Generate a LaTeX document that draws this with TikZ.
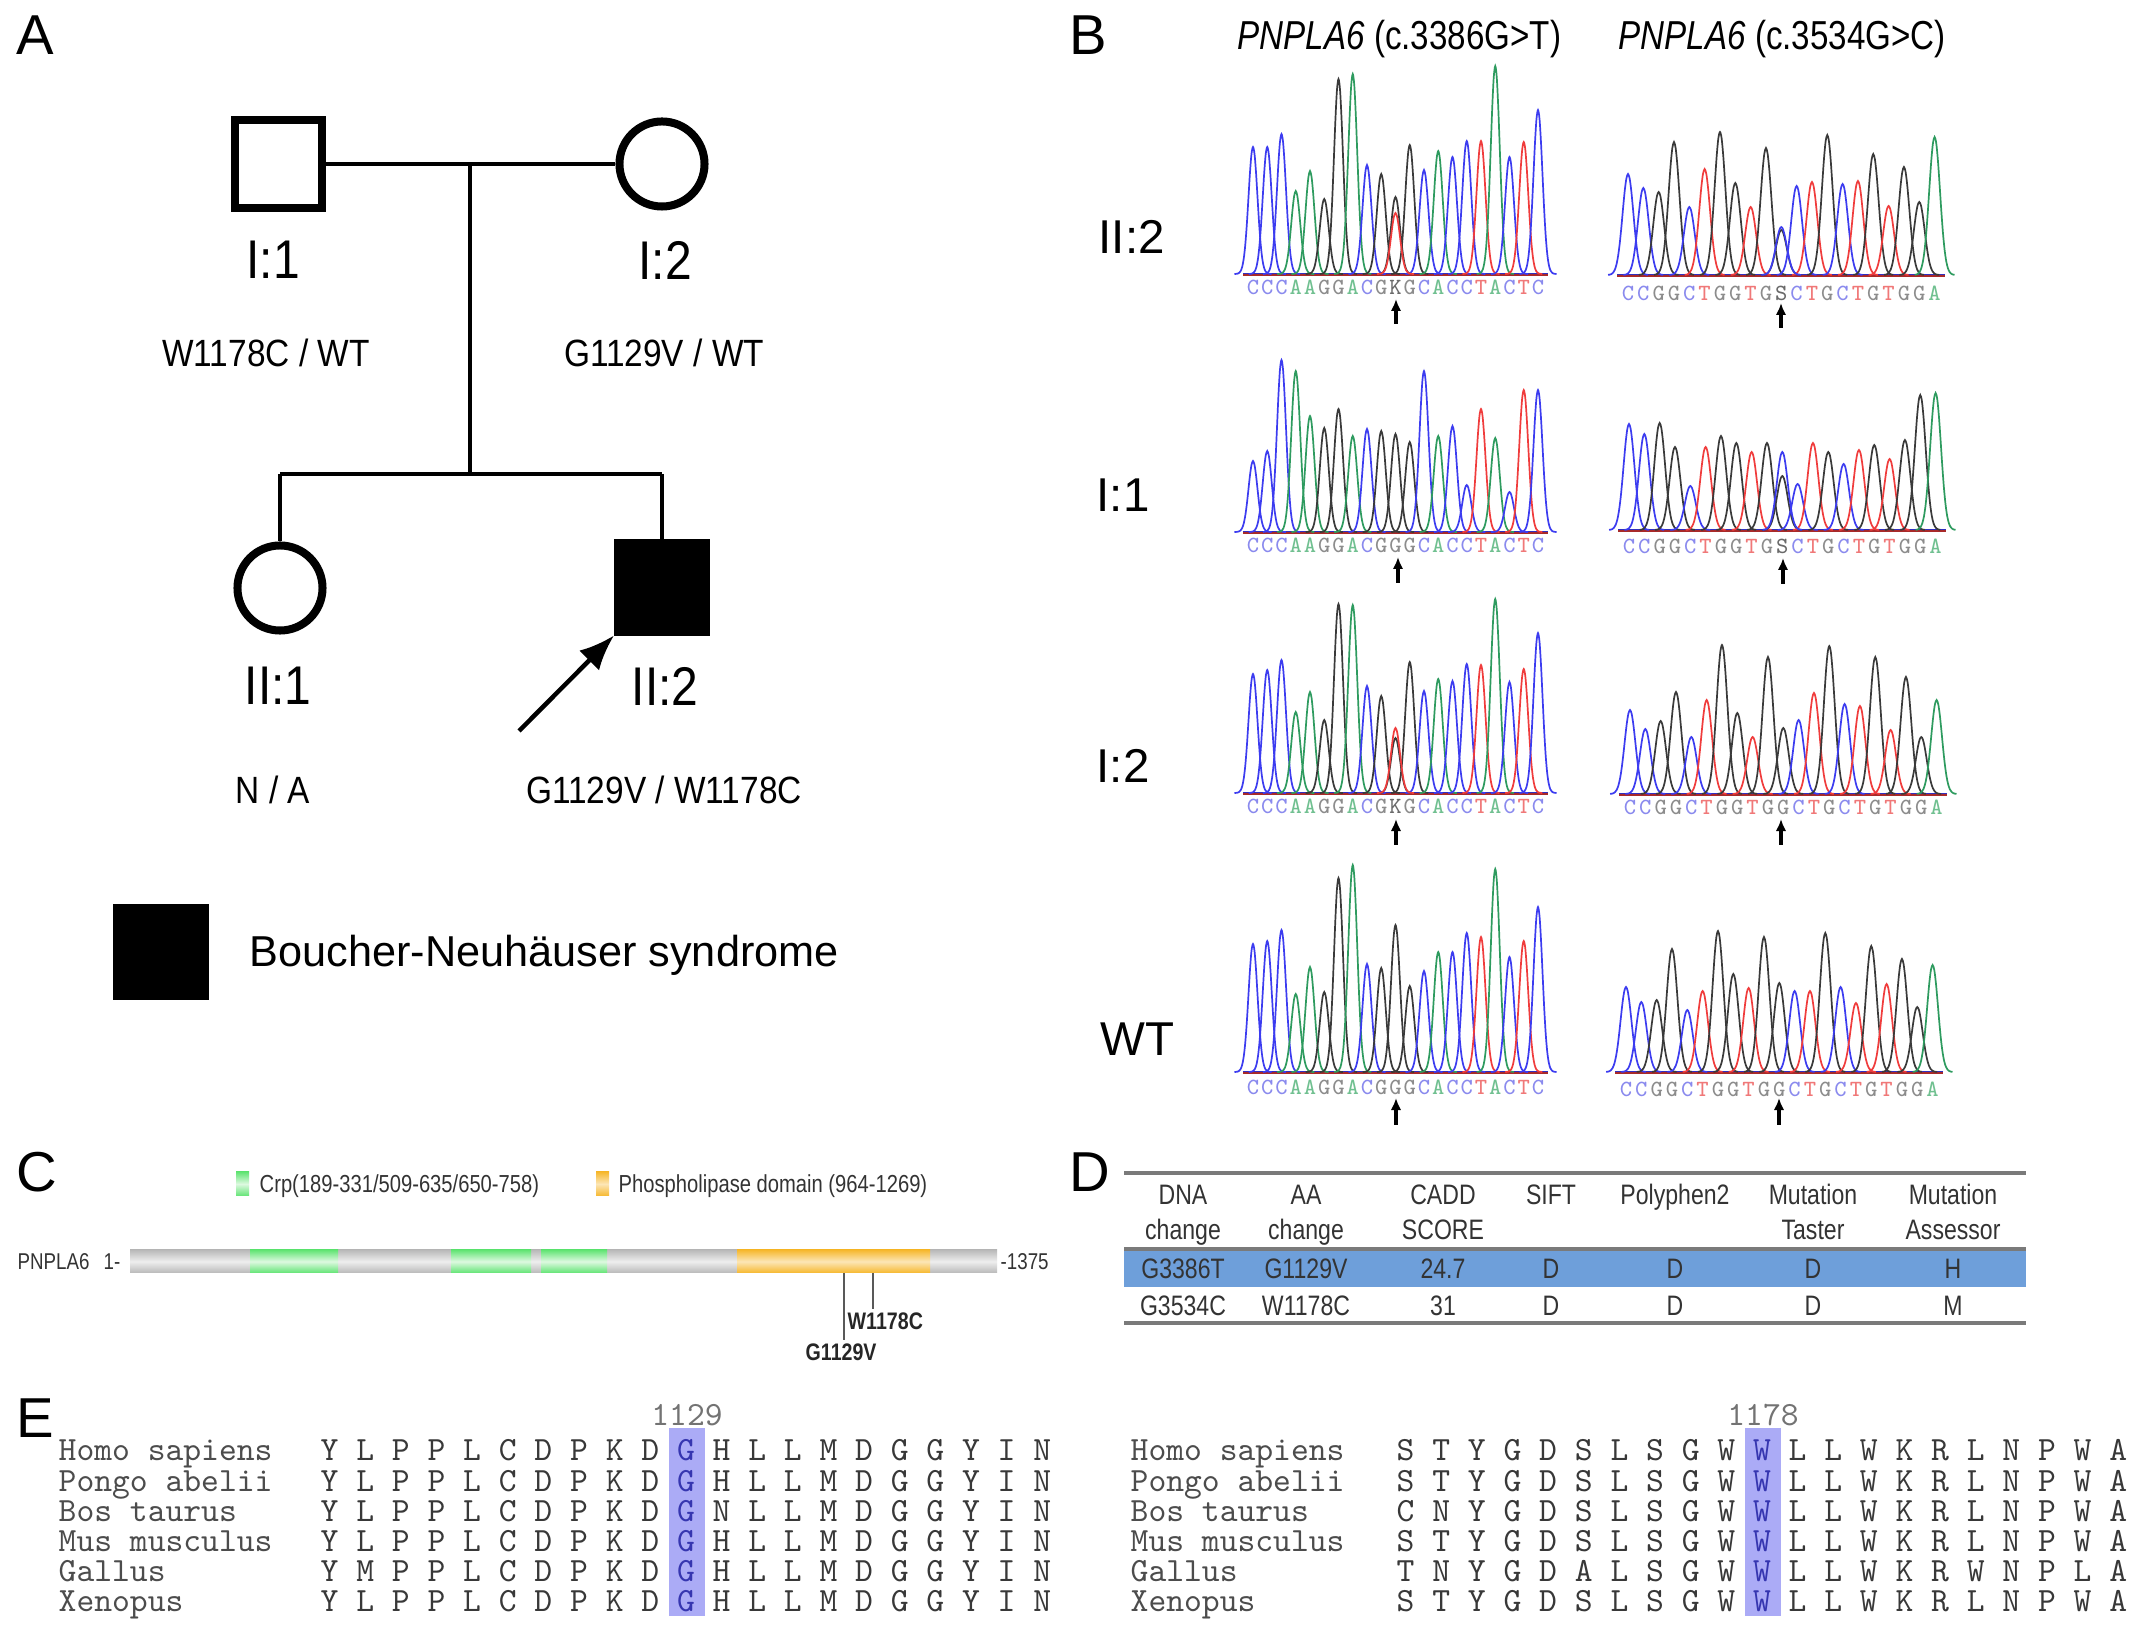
\documentclass[tikz,border=0pt]{standalone}
\usepackage{fontspec}
\setmainfont{Liberation Sans}
\newfontfamily\narrowfont[FakeStretch=0.82]{Liberation Sans}
\newfontfamily\pedfont[FakeStretch=0.88]{Liberation Sans}
\usetikzlibrary{arrows.meta}
\definecolor{pkA}{HTML}{2E9B5F}
\definecolor{pkC}{HTML}{3C3CF0}
\definecolor{pkG}{HTML}{3A3A3A}
\definecolor{pkT}{HTML}{F03C3C}
\definecolor{lbA}{HTML}{70C090}
\definecolor{lbC}{HTML}{8A8AEE}
\definecolor{lbG}{HTML}{8C8C8C}
\definecolor{lbT}{HTML}{F07878}
\definecolor{lbK}{HTML}{6A6A6A}
\definecolor{lbS}{HTML}{6A6A6A}
\definecolor{barD}{HTML}{B9B9B9}
\definecolor{barL}{HTML}{EEEEEE}
\definecolor{grnD}{HTML}{62E474}
\definecolor{grnL}{HTML}{DDF9E0}
\definecolor{orgD}{HTML}{F6B82E}
\definecolor{orgL}{HTML}{FCE6B6}
\definecolor{band}{HTML}{6E9FDA}
\definecolor{rulegrey}{HTML}{7A7A7A}
\definecolor{hilite}{HTML}{ABABF6}
\definecolor{hiletter}{HTML}{3636B0}
\newcommand\fsz[2]{\fontsize{#1}{#2}\selectfont}
% chromatogram: #1 x0, #2 baseline, #3 spacing, #4 sharpness, #5 list colour/height
\newcommand\chromo[5]{%
  \draw[draw=pkT!70!black, line width=0.25mm] ({#1-0.7*#3},{#2+0.5}) -- ({#1+20.7*#3},{#2+0.5});
  \draw[draw=pkC!80!black, line width=0.15mm] ({#1-0.7*#3},{#2-0.5}) -- ({#1+20.7*#3},{#2-0.5});
  \foreach \pc/\ph [count=\pi from 0] in {#5}{
    \draw[draw=pk\pc, line width=0.17mm] plot[domain=-1.3:1.3, samples=25, smooth]
      ({#1+(\pi+\x)*#3},{#2-\ph*exp(-#4*(\x)*(\x))});
  }}
% single extra peak: #1 x0, #2 base, #3 spacing, #4 sharpness, #5 pos, #6 base letter, #7 height
\newcommand\peak[7]{%
  \draw[draw=pk#6, line width=0.17mm] plot[domain=-1.3:1.3, samples=25, smooth]
    ({#1+(#5+\x)*#3},{#2-#7*exp(-#4*(\x)*(\x))});}
% base calls: #1 x0, #2 y, #3 spacing, #4 name prefix, #5 list
\newcommand\bases[5]{%
  \foreach \bl [count=\bi from 0] in {#5}{
    \node[baselbl, text=lb\bl] (#4-\bi) at ({#1+\bi*#3},#2) {\bl};
  }}
\tikzset{
  panellbl/.style={font=\fsz{16pt}{19pt}, inner sep=0, anchor=west},
  pedid/.style={font=\pedfont\fsz{15.5pt}{18pt}, inner sep=0},
  geno/.style={font=\pedfont\fsz{10.8pt}{13pt}, inner sep=0},
  pedline/.style={line width=0.4mm},
  male/.style={draw, line width=0.8mm, minimum size=0.87cm, inner sep=0},
  female/.style={circle, draw, line width=0.8mm, minimum size=0.85cm, inner sep=0},
  affected/.style={fill=black, draw=black, line width=0.1mm, minimum size=0.95cm, inner sep=0},
  pedarrow/.style={line width=0.45mm, -{Latex[length=3.5mm,width=2.8mm]}},
  rowlbl/.style={font=\fsz{13.5pt}{16pt}, inner sep=0, anchor=west},
  hdr/.style={font=\narrowfont\fsz{11.5pt}{14pt}, inner sep=0, anchor=base west},
  baselbl/.style={font=\ttfamily\fsz{6.6pt}{7pt}, inner sep=0},
  seqarrow/.style={line width=0.32mm, -{Latex[length=1.2mm,width=1.05mm]}},
  legC/.style={font=\narrowfont\fsz{7pt}{8pt}, inner sep=0, anchor=base west, text=black!80},
  mutlbl/.style={font=\narrowfont\bfseries\fsz{6.8pt}{8pt}, inner sep=0, anchor=base west, text=black!85},
  tbl/.style={font=\narrowfont\fsz{8pt}{10pt}, inner sep=0, anchor=base, text=black!80},
  aln/.style={font=\ttfamily\fsz{9.65pt}{11pt}, inner sep=0, anchor=base west, text=black!78},
  posl/.style={font=\ttfamily\fsz{9.65pt}{11pt}, inner sep=0, anchor=base, text=black!55}
}
\begin{document}
\begin{tikzpicture}[x=0.01cm, y=-0.01cm]
\useasboundingbox (0,0) rectangle (2150,1631);
\fill[white] (0,0) rectangle (2150,1631);

%================ Panel A =================
\node[panellbl] (labA) at (16,35) {A};
\node[male] (I1) at (278.5,164) {};
\node[female] (I2) at (662,164) {};
\node[female] (II1) at (280,588) {};
\node[affected] (II2) at (662,587.5) {};
\coordinate (mate) at (470,164);
\coordinate (sibtop) at (470,474);
\coordinate (sibL) at (280,474);
\coordinate (sibR) at (662,474);
\draw[pedline] (I1.east) -- (I2.west);
\draw[pedline] (mate) -- (sibtop);
\draw[pedline] (sibL) -- (sibR);
\draw[pedline] (sibL) -- (II1.north);
\draw[pedline] (sibR) -- (II2.north);
\coordinate (proband) at (519,731);
\draw[pedarrow] (proband) -- (II2.south west);
\node[pedid] (tI1) at (273,260) {I:1};
\node[pedid] (tI2) at (665,260) {I:2};
\node[pedid] (tII1) at (278,686) {II:1};
\node[pedid] (tII2) at (665,686) {II:2};
\node[geno] (gI1) at (266,353) {W1178C / WT};
\node[geno] (gI2) at (664,353) {G1129V / WT};
\node[geno] (gII1) at (273,790) {N / A};
\node[geno] (gII2) at (664,790) {G1129V / W1178C};
\node[affected, minimum size=0.95cm] (legsq) at (161,952) {};
\node[font=\fsz{12.3pt}{15pt}, inner sep=0, anchor=base west] (legtxt) at (249,967) {Boucher-Neuh\"auser syndrome};

%================ Panel B =================
\node[panellbl] (labB) at (1069,35) {B};
\node[hdr] (h1) at (1237,50) {{\itshape PNPLA6} (c.3386G>T)};
\node[hdr] (h2) at (1618,50) {{\itshape PNPLA6} (c.3534G>C)};
\node[rowlbl] (rII2) at (1098,237) {II:2};
\node[rowlbl] (rI1) at (1096,495) {I:1};
\node[rowlbl] (rI2) at (1096,766) {I:2};
\node[rowlbl] (rWT) at (1100,1039) {WT};

% --- II:2
\chromo{1253}{274}{14.25}{5}{C/127,C/127,C/140,A/83,A/103,G/75,G/195,A/200,C/109,G/100,G/77,G/129,C/104,A/123,C/117,C/133,T/133,A/208,C/117,T/132,C/164}
\peak{1253}{274}{14.25}{5}{10}{T}{61}
\bases{1253}{287}{14.25}{bA}{C,C,C,A,A,G,G,A,C,G,K,G,C,A,C,C,T,A,C,T,C}
\chromo{1628}{275}{15.33}{4}{C/101,C/87,G/83,G/133,C/68,T/106,G/143,G/92,T/68,G/127,G/45,C/89,T/93,G/140,C/91,T/94,G/121,T/69,G/108,G/73,A/138}
\peak{1628}{275}{15.33}{4}{10}{C}{48}
\bases{1628}{293}{15.33}{bB}{C,C,G,G,C,T,G,G,T,G,S,C,T,G,C,T,G,T,G,G,A}
\coordinate (a1s) at (1396,324); \coordinate (a1e) at (1396,299);
\coordinate (a2s) at (1781,328); \coordinate (a2e) at (1781,303);
\draw[seqarrow] (a1s) -- (a1e);
\draw[seqarrow] (a2s) -- (a2e);

% --- I:1
\chromo{1253}{532}{14.25}{5}{C/71,C/81,C/172,A/161,A/116,G/104,G/123,A/96,C/103,G/101,G/98,G/90,C/161,A/96,C/106,C/47,T/123,A/94,C/40,T/142,C/142}
\bases{1253}{545}{14.25}{bC}{C,C,C,A,A,G,G,A,C,G,G,G,C,A,C,C,T,A,C,T,C}
\chromo{1629}{530}{15.33}{4}{C/106,C/96,G/107,G/83,C/44,T/83,G/94,G/87,T/78,G/87,G/54,C/46,T/87,G/78,C/66,T/80,G/85,T/71,G/90,G/135,A/137}
\peak{1629}{530}{15.33}{4}{10}{C}{78}
\bases{1629}{546}{15.33}{bD}{C,C,G,G,C,T,G,G,T,G,S,C,T,G,C,T,G,T,G,G,A}
\coordinate (a3s) at (1398,583); \coordinate (a3e) at (1398,557);
\coordinate (a4s) at (1783,584); \coordinate (a4e) at (1783,558);
\draw[seqarrow] (a3s) -- (a3e);
\draw[seqarrow] (a4s) -- (a4e);

% --- I:2
\chromo{1253}{793}{14.25}{5}{C/119,C/123,C/133,A/81,A/101,G/73,G/189,A/188,C/107,G/97,G/55,G/131,C/102,A/114,C/112,C/129,T/128,A/194,C/111,T/124,C/160}
\peak{1253}{793}{14.25}{5}{10}{T}{65}
\bases{1253}{806}{14.25}{bE}{C,C,C,A,A,G,G,A,C,G,K,G,C,A,C,C,T,A,C,T,C}
\chromo{1630}{794}{15.33}{4}{C/84,C/65,G/73,G/102,C/57,T/94,G/149,G/81,T/57,G/137,G/66,C/74,T/101,G/148,C/90,T/88,G/137,T/64,G/117,G/57,A/94}
\bases{1630}{807}{15.33}{bF}{C,C,G,G,C,T,G,G,T,G,G,C,T,G,C,T,G,T,G,G,A}
\coordinate (a5s) at (1396,845); \coordinate (a5e) at (1396,819);
\coordinate (a6s) at (1781,845); \coordinate (a6e) at (1781,819);
\draw[seqarrow] (a5s) -- (a5e);
\draw[seqarrow] (a6s) -- (a6e);

% --- WT
\chromo{1253}{1072}{14.25}{5}{C/128,C/131,C/142,A/78,A/105,G/80,G/194,A/207,C/108,G/104,G/147,G/86,C/101,A/120,C/120,C/139,T/135,A/203,C/115,T/131,C/165}
\bases{1253}{1087}{14.25}{bG}{C,C,C,A,A,G,G,A,C,G,G,G,C,A,C,C,T,A,C,T,C}
\chromo{1626}{1072}{15.33}{4}{C/85,C/70,G/72,G/123,C/62,T/81,G/141,G/98,T/84,G/135,G/89,C/81,T/81,G/139,C/85,T/69,G/126,T/88,G/113,G/65,A/107}
\bases{1626}{1089}{15.33}{bH}{C,C,G,G,C,T,G,G,T,G,G,C,T,G,C,T,G,T,G,G,A}
\coordinate (a7s) at (1396,1125); \coordinate (a7e) at (1396,1098);
\coordinate (a8s) at (1779,1125); \coordinate (a8e) at (1779,1098);
\draw[seqarrow] (a7s) -- (a7e);
\draw[seqarrow] (a8s) -- (a8e);

%================ Panel C =================
\node[panellbl] (labC) at (16,1172) {C};
\shade[top color=grnD, bottom color=grnD, middle color=grnL] (236,1172) rectangle (249,1196);
\node[legC] (legCrp) at (259,1193) {Crp(189-331/509-635/650-758)};
\shade[top color=orgD, bottom color=orgD, middle color=orgL] (596,1172) rectangle (609,1196);
\node[legC] (legPh) at (618,1193) {Phospholipase domain (964-1269)};
\node[legC, font=\narrowfont\fsz{6.5pt}{8pt}] (pn) at (17,1270) {PNPLA6};
\node[legC, font=\narrowfont\fsz{6.5pt}{8pt}] (pn1) at (103,1270) {1-};
\node[legC, font=\narrowfont\fsz{6.5pt}{8pt}] (pnend) at (1000,1270) {-1375};
\shade[top color=barD, bottom color=barD, middle color=barL] (130,1250) rectangle (997,1273);
\shade[top color=grnD, bottom color=grnD, middle color=grnL] (250,1250) rectangle (338,1273);
\shade[top color=grnD, bottom color=grnD, middle color=grnL] (451,1250) rectangle (531,1273);
\shade[top color=grnD, bottom color=grnD, middle color=grnL] (541,1250) rectangle (607,1273);
\shade[top color=orgD, bottom color=orgD, middle color=orgL] (737,1250) rectangle (930,1273);
\coordinate (m1a) at (844,1273); \coordinate (m1b) at (844,1340);
\coordinate (m2a) at (873,1273); \coordinate (m2b) at (873,1309);
\draw[black!65, line width=0.15mm] (m1a) -- (m1b);
\draw[black!65, line width=0.15mm] (m2a) -- (m2b);
\node[mutlbl] (mW) at (847,1330) {W1178C};
\node[mutlbl] (mG) at (805,1361) {G1129V};

%================ Panel D =================
\node[panellbl] (labD) at (1069,1172) {D};
\fill[band] (1124,1250) rectangle (2026,1287);
\draw[rulegrey, line width=0.4mm] (1124,1173) -- (2026,1173);
\draw[rulegrey, line width=0.35mm] (1124,1249) -- (2026,1249);
\draw[rulegrey, line width=0.4mm] (1124,1323) -- (2026,1323);
\node[tbl] (d11) at (1183,1205) {DNA};
\node[tbl] (d12) at (1183,1240) {change};
\node[tbl] (d21) at (1306,1205) {AA};
\node[tbl] (d22) at (1306,1240) {change};
\node[tbl] (d31) at (1443,1205) {CADD};
\node[tbl] (d32) at (1443,1240) {SCORE};
\node[tbl] (d41) at (1551,1205) {SIFT};
\node[tbl] (d51) at (1675,1205) {Polyphen2};
\node[tbl] (d61) at (1813,1205) {Mutation};
\node[tbl] (d62) at (1813,1240) {Taster};
\node[tbl] (d71) at (1953,1205) {Mutation};
\node[tbl] (d72) at (1953,1240) {Assessor};
\foreach \xx/\tt [count=\k] in {1183/G3386T,1306/G1129V,1443/24.7,1551/D,1675/D,1813/D,1953/H}
  \node[tbl] (r1-\k) at (\xx,1279) {\tt};
\foreach \xx/\tt [count=\k] in {1183/G3534C,1306/W1178C,1443/31,1551/D,1675/D,1813/D,1953/M}
  \node[tbl] (r2-\k) at (\xx,1316) {\tt};

%================ Panel E =================
\node[panellbl] (labE) at (16,1418) {E};
\fill[hilite] (669,1428) rectangle (705,1616);
\fill[hilite] (1745,1428) rectangle (1781,1616);
\node[posl] (p1129) at (687,1426) {1129};
\node[posl] (p1178) at (1763,1426) {1178};
\newcommand\hl[1]{\textcolor{hiletter}{#1}}
\foreach \nm/\sq [count=\k from 0] in {
  Homo sapiens/{Y L P P L C D P K D \hl{G} H L L M D G G Y I N},
  Pongo abelii/{Y L P P L C D P K D \hl{G} H L L M D G G Y I N},
  Bos taurus/{Y L P P L C D P K D \hl{G} N L L M D G G Y I N},
  Mus musculus/{Y L P P L C D P K D \hl{G} H L L M D G G Y I N},
  Gallus/{Y M P P L C D P K D \hl{G} H L L M D G G Y I N},
  Xenopus/{Y L P P L C D P K D \hl{G} H L L M D G G Y I N}}{
  \node[aln, text=black!70] (spL-\k) at (58,{1461+30.1*\k}) {\nm};
  \node[aln] (sqL-\k) at (320,{1461+30.1*\k}) {\sq};
}
\foreach \nm/\sq [count=\k from 0] in {
  Homo sapiens/{S T Y G D S L S G W \hl{W} L L W K R L N P W A},
  Pongo abelii/{S T Y G D S L S G W \hl{W} L L W K R L N P W A},
  Bos taurus/{C N Y G D S L S G W \hl{W} L L W K R L N P W A},
  Mus musculus/{S T Y G D S L S G W \hl{W} L L W K R L N P W A},
  Gallus/{T N Y G D A L S G W \hl{W} L L W K R W N P L A},
  Xenopus/{S T Y G D S L S G W \hl{W} L L W K R L N P W A}}{
  \node[aln, text=black!70] (spR-\k) at (1130,{1461+30.1*\k}) {\nm};
  \node[aln] (sqR-\k) at (1396,{1461+30.1*\k}) {\sq};
}
\end{tikzpicture}
\end{document}
